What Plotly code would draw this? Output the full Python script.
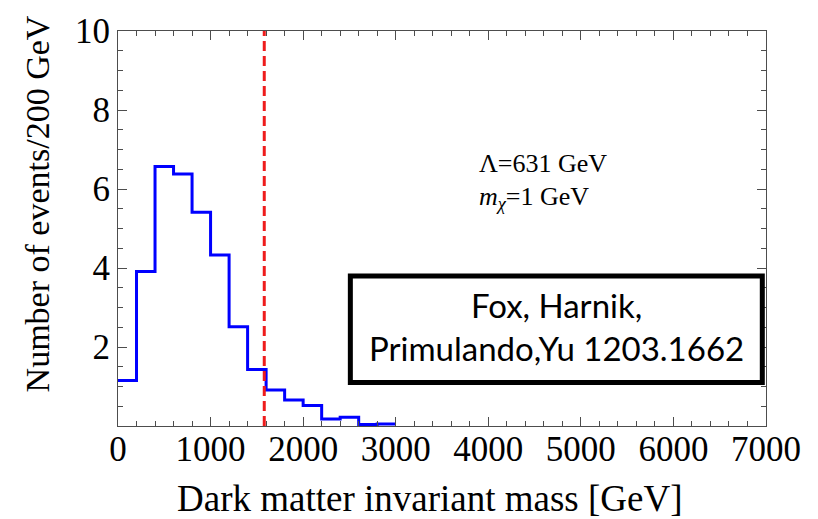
import plotly.graph_objects as go

# Histogram of dark-matter pair invariant mass (200 GeV bins)
bin_lo = [0, 200, 400, 600, 800, 1000, 1200, 1400, 1600, 1800, 2000, 2200, 2400, 2600, 2800]
bin_width = 200
events = [1.15, 3.91, 6.57, 6.38, 5.41, 4.33, 2.51, 1.43, 0.91, 0.66, 0.52, 0.18, 0.22, 0.04, 0.05]

cut_mass = 1580  # vertical reference line [GeV]

x_ticks = [0, 1000, 2000, 3000, 4000, 5000, 6000, 7000]
y_ticks = [2, 4, 6, 8, 10]

# step outline: each bin drawn from its lower edge, last edge closes the final bin
step_x = bin_lo + [bin_lo[-1] + bin_width]
step_y = events + [events[-1]]

serif = "Liberation Serif"
frame_col = "#4d4d4d"

fig = go.Figure()
fig.add_trace(go.Scatter(
    x=step_x, y=step_y, mode="lines", line_shape="hv",
    line=dict(color="#0000ff", width=3), showlegend=False, hoverinfo="skip"))

fig.add_trace(go.Scatter(
    x=[cut_mass, cut_mass], y=[0, 10], mode="lines",
    line=dict(color="#ee1c1c", width=3, dash="10px,5px"),
    showlegend=False, hoverinfo="skip"))

axis_common = dict(
    showline=True, linecolor=frame_col, linewidth=1.2, mirror="ticks",
    ticks="inside", tickcolor=frame_col, tickwidth=1, ticklen=9,
    showgrid=False, zeroline=False,
    tickfont=dict(family=serif, size=35, color="black"),
)

fig.update_xaxes(
    range=[0, 7000], tickvals=x_ticks, ticktext=[str(v) for v in x_ticks],
    minor=dict(dtick=200, ticks="inside", ticklen=5, tickcolor=frame_col, tickwidth=1),
    ticklabelstandoff=-8,
    **axis_common)

fig.update_yaxes(
    range=[0, 10], tickvals=y_ticks, ticktext=[str(v) for v in y_ticks],
    minor=dict(dtick=0.5, ticks="inside", ticklen=5, tickcolor=frame_col, tickwidth=1),
    **axis_common)

# axis titles
fig.add_annotation(xref="paper", yref="paper", x=0.481, y=-0.184,
                   xanchor="center", yanchor="middle", showarrow=False,
                   text="Dark matter invariant mass [GeV]",
                   font=dict(family=serif, size=37, color="black"))
fig.add_annotation(xref="paper", yref="paper", x=-0.125, y=0.561,
                   xanchor="center", yanchor="middle", showarrow=False, textangle=-90,
                   text="Number of events/200 GeV",
                   font=dict(family=serif, size=34, color="black"))

# citation box
fig.add_shape(type="rect", xref="x", yref="y",
              x0=2510, x1=6960, y0=1.10, y1=3.80,
              line=dict(color="black", width=5), fillcolor="white", layer="above")
fig.add_annotation(xref="x", yref="y", x=4735, y=2.53, showarrow=False,
                   text="Fox, Harnik,<br>Primulando,Yu 1203.1662",
                   font=dict(family="Lato", size=33, color="black"),
                   align="center")

# model parameters
fig.add_annotation(xref="x", yref="y", x=3880, y=6.65, xanchor="left", showarrow=False,
                   text="Λ=631 GeV", font=dict(family=serif, size=26, color="black"))
fig.add_annotation(xref="x", yref="y", x=3880, y=5.78, xanchor="left", showarrow=False,
                   text="<i>m</i><sub><i>χ</i></sub>=1 GeV",
                   font=dict(family=serif, size=26, color="black"))

fig.update_layout(
    width=818, height=519,
    margin=dict(l=118, r=52, t=25, b=93),
    paper_bgcolor="white", plot_bgcolor="white",
)

fig.write_html("out.html")
